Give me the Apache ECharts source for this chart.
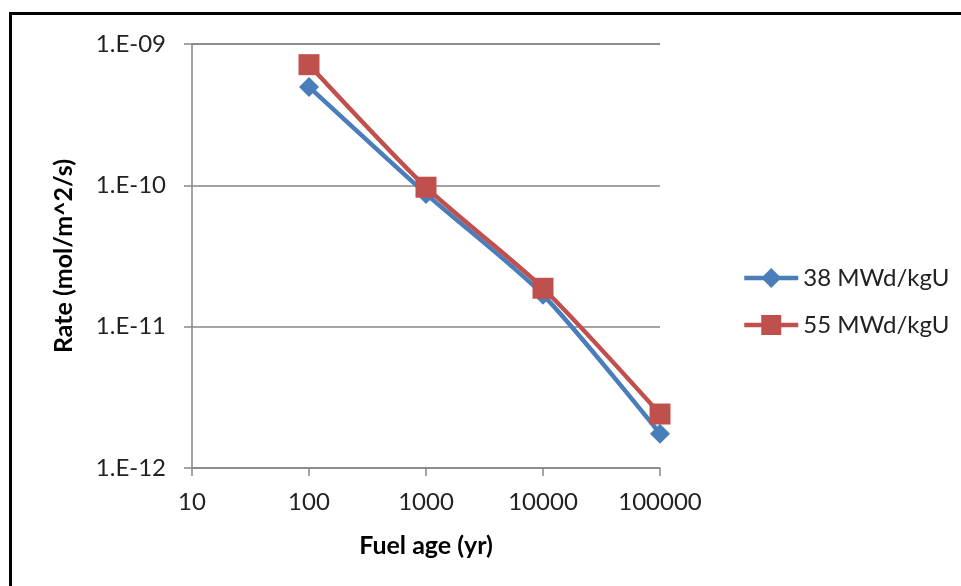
<!DOCTYPE html>
<html><head><meta charset="utf-8">
<script src="https://cdn.jsdelivr.net/npm/echarts@6/dist/echarts.min.js"></script>
<style>html,body{margin:0;padding:0;background:#fff}#c{width:961px;height:586px}</style>
</head><body><div id="c"></div>
<script>
const fuelAge = [100, 1000, 10000, 100000];
const rate38 = [4.97e-10, 8.7e-11, 1.68e-11, 1.75e-12];
const rate55 = [7.14e-10, 9.7e-11, 1.87e-11, 2.41e-12];
const seriesNames = ['38 MWd/kgU', '55 MWd/kgU'];
const xTitle = 'Fuel age (yr)';
const yTitle = 'Rate (mol/m^2/s)';

const FONT = 'Lato';
const chart = echarts.init(document.getElementById('c'), null, {renderer: 'canvas'});
function yFmt(v){ const e = Math.round(Math.log10(v)); const a = Math.abs(e); return '1.E' + (e<0?'-':'+') + (a<10?'0':'') + a; }
function xFmt(v){ return String(Math.round(v)); }
chart.setOption({
  animation: false,
  backgroundColor: '#fff',
  grid: {left: 192, right: 301, top: 44, bottom: 118, containLabel: false},
  xAxis: {
    type: 'log', logBase: 10, min: 10, max: 100000,
    name: xTitle, nameLocation: 'middle', nameGap: 65,
    nameTextStyle: {fontFamily: FONT, fontSize: 25, fontWeight: 'bold', color: '#000'},
    axisLine: {show: true, lineStyle: {color: '#868686', width: 1.5}},
    axisTick: {show: true, inside: false, length: 8, lineStyle: {color: '#868686', width: 1.5}},
    axisLabel: {fontFamily: FONT, fontSize: 24, color: '#222', margin: 22, formatter: xFmt},
    splitLine: {show: false}, minorTick: {show: false}
  },
  yAxis: {
    type: 'log', logBase: 10, min: 1e-12, max: 1e-9,
    name: yTitle, nameLocation: 'middle', nameGap: 116, nameRotate: 90,
    nameTextStyle: {fontFamily: FONT, fontSize: 25, fontWeight: 'bold', color: '#000'},
    axisLine: {show: true, lineStyle: {color: '#868686', width: 1.5}},
    axisTick: {show: true, inside: false, length: 8, lineStyle: {color: '#868686', width: 1.5}},
    axisLabel: {fontFamily: FONT, fontSize: 24, color: '#222', margin: 26, formatter: yFmt},
    splitLine: {show: true, lineStyle: {color: '#868686', width: 1.5}}
  },
  legend: {
    orient: 'vertical', left: 737, top: 261, itemGap: 23, itemWidth: 54, itemHeight: 25,
    lineStyle: {width: 4.5},
    textStyle: {fontFamily: FONT, fontSize: 24, color: '#222'},
    data: seriesNames
  },
  series: [
    {name: seriesNames[0], type: 'line', smooth: 0.25,
     data: fuelAge.map((x,i)=>[x, rate38[i]]),
     symbol: 'diamond', symbolSize: 20,
     lineStyle: {color: '#4A7EBB', width: 4.5}, itemStyle: {color: '#4A7EBB'}},
    {name: seriesNames[1], type: 'line', smooth: 0.25,
     data: fuelAge.map((x,i)=>[x, rate55[i]]),
     symbol: 'rect', symbolSize: 21,
     lineStyle: {color: '#C0504D', width: 4.5}, itemStyle: {color: '#C0504D'}}
  ],
  graphic: [
    {type: 'line', shape: {x1: 9, y1: 13.5, x2: 961, y2: 13.5}, style: {stroke: '#000', lineWidth: 3}, silent: true},
    {type: 'line', shape: {x1: 10.5, y1: 12, x2: 10.5, y2: 586}, style: {stroke: '#000', lineWidth: 3}, silent: true}
  ]
});
</script></body></html>
